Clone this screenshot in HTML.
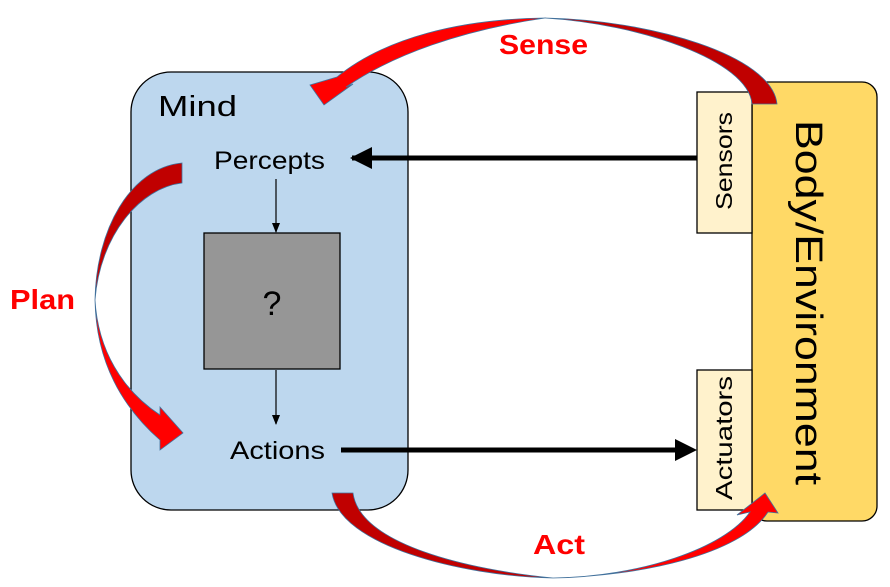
<!DOCTYPE html>
<html><head><style>body{margin:0;background:#fff}svg{display:block}</style></head><body>
<svg width="890" height="587" viewBox="0 0 890 587" xmlns="http://www.w3.org/2000/svg" font-family="Liberation Sans, sans-serif">
<defs>
<marker id="ah" markerWidth="10" markerHeight="10" refX="9" refY="5" orient="auto" markerUnits="userSpaceOnUse"><path d="M0,1 L10,5 L0,9 Z" fill="#000"/></marker>
</defs>
<rect x="131" y="72" width="277" height="438" rx="40" fill="#BDD7EE" stroke="#000" stroke-width="1.3"/>
<rect x="752" y="82" width="125" height="439" rx="15" fill="#FFD966" stroke="#000" stroke-width="1.3"/>
<rect x="697" y="92" width="55" height="141" fill="#FFF2CC" stroke="#000" stroke-width="1.3"/>
<rect x="697" y="370" width="55" height="140" fill="#FFF2CC" stroke="#000" stroke-width="1.3"/>
<rect x="204" y="233" width="136" height="136" fill="#969696" stroke="#000" stroke-width="1.3"/>
<text x="158" y="116" font-size="29" textLength="79" lengthAdjust="spacingAndGlyphs">Mind</text>
<text x="214" y="169" font-size="25" textLength="111" lengthAdjust="spacingAndGlyphs">Percepts</text>
<text x="230" y="459" font-size="25" textLength="95" lengthAdjust="spacingAndGlyphs">Actions</text>
<text x="272" y="315" font-size="34" text-anchor="middle">?</text>
<text transform="translate(796,120) rotate(90)" font-size="38" textLength="365" lengthAdjust="spacingAndGlyphs">Body/Environment</text>
<text transform="translate(732,210) rotate(-90)" font-size="23" textLength="98" lengthAdjust="spacingAndGlyphs">Sensors</text>
<text transform="translate(732,500) rotate(-90)" font-size="23" textLength="124" lengthAdjust="spacingAndGlyphs">Actuators</text>
<line x1="697" y1="158" x2="352" y2="158" stroke="#000" stroke-width="5"/>
<path d="M350,158 L372,147 L372,169 Z" fill="#000"/>
<line x1="341" y1="450" x2="676" y2="450" stroke="#000" stroke-width="5"/>
<path d="M697,450 L675,439 L675,461 Z" fill="#000"/>
<line x1="276" y1="179" x2="276" y2="232" stroke="#000" stroke-width="1.2" marker-end="url(#ah)"/>
<line x1="276" y1="370" x2="276" y2="424" stroke="#000" stroke-width="1.2" marker-end="url(#ah)"/>
<path d="M777,104 C772,55 650,20 545,18 C640,24 748,60 752,104 Z" fill="#C00000" stroke="#41719C" stroke-width="0.8"/>
<path d="M545,18 C460,19 385,38 337,77 L310,85 L324,105 L353,84 L346,87 C392,55 462,30 545,18 Z" fill="#FF0000" stroke="#41719C" stroke-width="0.8"/>
<path d="M332,493 C340,545 460,576 553,578 C470,570 360,545 353,493 Z" fill="#C00000" stroke="#41719C" stroke-width="0.8"/>
<path d="M553,578 C640,577 725,548 750,512 L737,515 L765,493 L778,513 L768,512 C740,555 640,576 553,578 Z" fill="#FF0000" stroke="#41719C" stroke-width="0.8"/>
<path d="M182,163 C130,168 96,230 95,300 C100,235 140,188 182,183 Z" fill="#C00000" stroke="#41719C" stroke-width="0.8"/>
<path d="M95,300 C96,360 120,405 160,440 L160,450 L183,433 L160,407 L160,415 C122,390 98,350 95,300 Z" fill="#FF0000" stroke="#41719C" stroke-width="0.8"/>
<text x="499" y="54" font-size="28" font-weight="bold" fill="#FF0000" textLength="89" lengthAdjust="spacingAndGlyphs">Sense</text>
<text x="533" y="554" font-size="28" font-weight="bold" fill="#FF0000" textLength="52" lengthAdjust="spacingAndGlyphs">Act</text>
<text x="10" y="309" font-size="28" font-weight="bold" fill="#FF0000" textLength="65" lengthAdjust="spacingAndGlyphs">Plan</text>
</svg>
</body></html>
